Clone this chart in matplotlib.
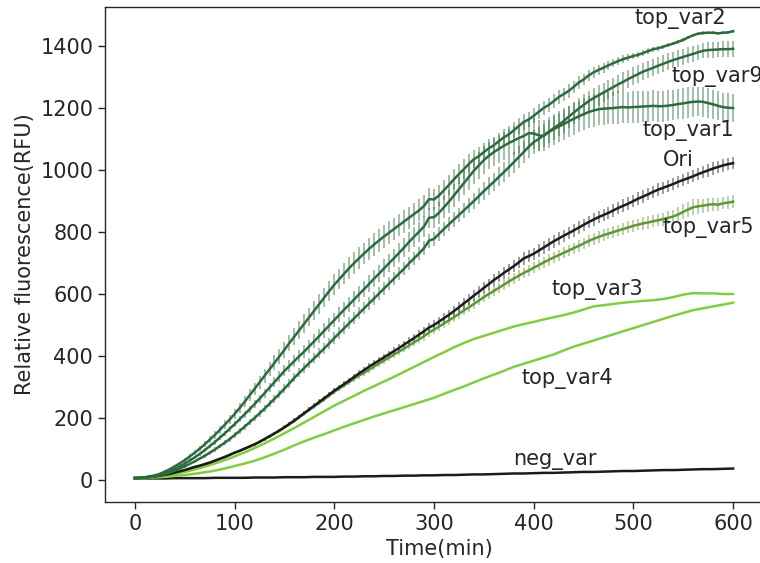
import numpy as np
import matplotlib
matplotlib.use("Agg")
import matplotlib.pyplot as plt
from matplotlib.colors import to_rgba

# time points (min)
t5 = np.arange(0, 605, 5)
t10 = np.arange(0, 610, 10)

# mean fluorescence, 5 min readings
top_var2 = [7, 7, 9, 12, 15, 20, 27, 35, 44, 54,
            64, 76, 88, 101, 115, 130, 145, 161, 178, 195,
            213, 232, 252, 273, 294, 315, 336, 357, 378, 399,
            420, 442, 463, 484, 505, 526, 547, 568, 589, 610,
            630, 648, 666, 684, 700, 716, 731, 746, 760, 773,
            786, 798, 810, 822, 834, 846, 858, 870, 884, 906,
            905, 918, 935, 952, 970, 987, 1003, 1020, 1035, 1045,
            1058, 1070, 1080, 1093, 1105, 1115, 1128, 1142, 1155, 1163,
            1175, 1188, 1200, 1210, 1222, 1235, 1245, 1255, 1268, 1282,
            1292, 1305, 1315, 1323, 1330, 1338, 1345, 1352, 1358, 1363,
            1368, 1372, 1378, 1384, 1390, 1393, 1398, 1403, 1408, 1414,
            1420, 1428, 1435, 1440, 1442, 1443, 1443, 1441, 1443, 1444,
            1448]
top_var1 = [7, 7, 8, 10, 13, 17, 22, 29, 36, 44,
            53, 63, 73, 84, 96, 109, 122, 136, 150, 165,
            180, 196, 212, 228, 245, 262, 280, 298, 316, 334,
            352, 368, 384, 400, 415, 432, 448, 465, 482, 499,
            516, 533, 550, 566, 583, 600, 616, 633, 650, 666,
            683, 700, 716, 733, 750, 768, 785, 801, 818, 846,
            848, 862, 880, 898, 918, 938, 958, 978, 998, 1015,
            1032, 1046, 1058, 1068, 1078, 1087, 1095, 1103, 1110, 1119,
            1118, 1112, 1110, 1122, 1132, 1140, 1148, 1157, 1165, 1173,
            1180, 1187, 1192, 1196, 1198, 1199, 1200, 1202, 1203, 1202,
            1203, 1204, 1205, 1206, 1207, 1206, 1206, 1208, 1210, 1213,
            1215, 1218, 1220, 1221, 1220, 1216, 1212, 1207, 1203, 1201,
            1200]
top_var9 = [6, 6, 7, 9, 11, 15, 19, 24, 30, 37,
            44, 52, 60, 69, 78, 88, 98, 109, 120, 132,
            145, 158, 172, 186, 200, 215, 230, 246, 262, 278,
            295, 312, 330, 346, 362, 378, 393, 409, 425, 441,
            458, 474, 490, 506, 522, 538, 554, 570, 586, 602,
            618, 634, 650, 666, 682, 699, 715, 731, 748, 772,
            778, 794, 810, 825, 840, 855, 870, 885, 900, 916,
            932, 947, 962, 978, 993, 1009, 1025, 1042, 1058, 1075,
            1090, 1100, 1112, 1124, 1135, 1146, 1158, 1172, 1185, 1198,
            1210, 1222, 1232, 1241, 1250, 1259, 1268, 1277, 1285, 1294,
            1302, 1310, 1318, 1324, 1330, 1337, 1343, 1349, 1355, 1360,
            1365, 1370, 1375, 1380, 1385, 1387, 1388, 1389, 1390, 1390,
            1391]
ori = [6, 7, 8, 10, 12, 14, 17, 20, 24, 28,
       32, 37, 42, 46, 51, 56, 62, 68, 74, 81,
       88, 94, 101, 108, 115, 123, 132, 141, 150, 160,
       170, 181, 192, 204, 216, 228, 240, 252, 264, 276,
       288, 299, 310, 321, 333, 344, 355, 366, 376, 386,
       396, 406, 416, 426, 437, 447, 458, 469, 480, 492,
       500, 511, 522, 533, 545, 557, 570, 582, 595, 607,
       620, 632, 645, 656, 668, 679, 690, 702, 715, 722,
       730, 740, 750, 760, 770, 779, 788, 796, 805, 814,
       823, 832, 840, 848, 855, 862, 870, 878, 885, 892,
       900, 908, 915, 922, 930, 937, 943, 949, 955, 962,
       968, 974, 980, 987, 993, 999, 1005, 1010, 1015, 1019,
       1022]
top_var5 = [6, 7, 8, 10, 12, 14, 17, 20, 24, 28,
            32, 37, 42, 46, 51, 56, 62, 68, 74, 81,
            88, 94, 101, 108, 115, 123, 132, 141, 150, 159,
            169, 180, 191, 203, 215, 227, 238, 249, 261, 273,
            285, 295, 306, 316, 327, 337, 346, 356, 366, 376,
            386, 395, 405, 414, 424, 434, 444, 454, 464, 476,
            485, 495, 505, 515, 525, 536, 547, 557, 568, 579,
            590, 600, 610, 620, 630, 640, 650, 659, 668, 676,
            685, 693, 702, 710, 718, 725, 733, 740, 748, 755,
            763, 771, 778, 784, 790, 795, 800, 805, 810, 815,
            820, 824, 828, 831, 835, 838, 842, 846, 850, 857,
            865, 873, 880, 883, 885, 888, 890, 888, 893, 895,
            898]

# 10 min readings
top_var3 = [6, 7, 10, 14, 19, 26, 34, 43, 53, 64,
            76, 89, 103, 118, 134, 151, 168, 186, 204, 222,
            240, 256, 272, 288, 303, 318, 333, 349, 365, 381,
            397, 412, 428, 442, 455, 465, 475, 485, 495, 503,
            510, 518, 525, 532, 540, 550, 560, 564, 568, 572,
            575, 578, 580, 584, 590, 598, 603, 602, 602, 600,
            600]
top_var4 = [5, 6, 8, 10, 13, 16, 20, 25, 30, 37,
            45, 53, 62, 73, 85, 98, 112, 125, 137, 148,
            160, 172, 183, 194, 205, 215, 225, 235, 245, 255,
            265, 278, 290, 302, 315, 328, 340, 352, 365, 375,
            385, 395, 405, 418, 430, 440, 450, 460, 470, 480,
            490, 500, 510, 520, 530, 539, 548, 554, 560, 566,
            572]
neg_var = [5, 5, 5, 5, 6, 6, 6, 6, 7, 7,
           7, 7, 8, 8, 8, 9, 9, 9, 10, 10,
           10, 11, 11, 12, 12, 13, 13, 14, 14, 15,
           15, 16, 16, 17, 18, 18, 19, 20, 21, 21,
           22, 23, 23, 24, 25, 26, 26, 27, 28, 29,
           29, 30, 31, 32, 32, 33, 34, 35, 35, 36,
           37]

# error (sd) for the 5 min series
err_var2 = [1, 1, 2, 2, 3, 3, 4, 4, 5, 5,
            6, 7, 8, 9, 10, 11, 12, 13, 14, 15,
            16, 17, 18, 19, 20, 21, 22, 23, 24, 25,
            26, 27, 28, 29, 30, 30, 31, 31, 32, 32,
            33, 33, 34, 34, 35, 35, 35, 35, 36, 36,
            36, 36, 36, 36, 36, 36, 35, 35, 35, 35,
            34, 34, 33, 33, 32, 32, 31, 31, 30, 30,
            29, 29, 28, 28, 27, 27, 26, 26, 25, 25,
            24, 24, 23, 23, 22, 22, 21, 21, 20, 20,
            19, 19, 18, 17, 16, 15, 14, 13, 12, 11,
            10, 10, 9, 9, 8, 8, 7, 7, 6, 6,
            6, 6, 5, 5, 5, 5, 5, 5, 5, 5,
            5]
err_var1 = [1, 1, 1, 1, 2, 2, 3, 3, 4, 4,
            5, 5, 6, 6, 7, 7, 8, 8, 9, 9,
            10, 10, 11, 11, 12, 13, 14, 15, 16, 17,
            18, 19, 20, 20, 21, 21, 22, 22, 23, 23,
            24, 24, 25, 25, 26, 26, 27, 27, 28, 28,
            29, 29, 30, 30, 31, 31, 32, 32, 33, 33,
            34, 35, 36, 37, 38, 39, 40, 41, 42, 43,
            44, 44, 45, 45, 46, 46, 47, 47, 48, 48,
            49, 49, 50, 50, 50, 50, 51, 51, 51, 51,
            52, 52, 52, 52, 52, 52, 52, 52, 51, 51,
            51, 51, 50, 50, 50, 50, 50, 50, 49, 49,
            49, 49, 48, 48, 48, 48, 47, 47, 47, 47,
            46]
err_var9 = [1, 1, 1, 1, 2, 2, 2, 2, 3, 3,
            4, 4, 5, 5, 6, 6, 7, 7, 8, 8,
            9, 9, 10, 10, 11, 11, 12, 12, 13, 13,
            14, 14, 15, 15, 16, 16, 17, 17, 18, 18,
            18, 18, 19, 19, 19, 19, 20, 20, 20, 20,
            20, 20, 20, 20, 21, 21, 21, 21, 22, 22,
            22, 22, 23, 23, 24, 24, 25, 25, 26, 27,
            28, 29, 30, 31, 32, 33, 34, 35, 36, 37,
            38, 38, 38, 38, 38, 37, 37, 36, 36, 35,
            35, 34, 34, 33, 32, 31, 30, 30, 30, 29,
            29, 28, 28, 28, 28, 27, 27, 27, 27, 26,
            26, 26, 26, 25, 25, 25, 25, 25, 25, 25,
            25]
err_ori = [1, 1, 1, 1, 1, 1, 1, 1, 2, 2,
           2, 2, 2, 2, 3, 3, 3, 3, 3, 3,
           4, 4, 4, 4, 5, 5, 5, 5, 6, 6,
           6, 6, 7, 7, 7, 7, 8, 8, 8, 8,
           9, 9, 9, 9, 10, 10, 10, 10, 11, 11,
           11, 11, 12, 12, 13, 13, 14, 14, 15, 15,
           16, 16, 16, 16, 17, 17, 17, 17, 18, 18,
           18, 18, 18, 18, 19, 19, 19, 19, 20, 20,
           20, 20, 20, 20, 20, 20, 20, 20, 20, 20,
           20, 20, 20, 20, 20, 20, 20, 20, 20, 20,
           20, 20, 20, 20, 20, 20, 20, 20, 20, 20,
           20, 20, 20, 20, 20, 20, 20, 20, 20, 20,
           20]
err_var5 = [1, 1, 1, 1, 1, 1, 1, 1, 2, 2,
            2, 2, 2, 2, 3, 3, 3, 3, 3, 3,
            4, 4, 4, 4, 5, 5, 5, 5, 6, 6,
            6, 6, 7, 7, 7, 7, 8, 8, 8, 8,
            9, 9, 9, 9, 10, 10, 10, 10, 11, 11,
            11, 11, 12, 12, 12, 12, 13, 13, 14, 14,
            14, 14, 15, 15, 15, 15, 16, 16, 16, 16,
            16, 16, 17, 17, 17, 17, 17, 17, 17, 17,
            17, 17, 18, 18, 18, 18, 18, 18, 18, 18,
            19, 19, 19, 19, 19, 19, 19, 19, 19, 19,
            19, 19, 20, 20, 20, 20, 21, 21, 22, 23,
            24, 25, 25, 24, 23, 22, 21, 21, 20, 20,
            20]

dark_green = '#2d6a3c'
mid_green = '#5f9636'
light_green = '#82cc44'
black = '#1c1c1c'
txt = '#262626'

fig = plt.figure(figsize=(7.6, 5.63), dpi=100)
ax = fig.add_axes([105 / 760, 61 / 563, 668 / 760, 495 / 563])

ax.plot(t10, neg_var, color=black, lw=1.8)
ax.plot(t10, top_var4, color=light_green, lw=1.8)
ax.plot(t10, top_var3, color=light_green, lw=1.8)

series = [(top_var5, err_var5, mid_green),
          (ori, err_ori, black),
          (top_var9, err_var9, dark_green),
          (top_var1, err_var1, dark_green),
          (top_var2, err_var2, dark_green)]
for vals, err, c in series:
    ax.errorbar(t5, vals, yerr=err, color=c, lw=1.8,
                ecolor=to_rgba(c, 0.55), elinewidth=1.1, capsize=0)

labels = [('top_var2', 547, 1490, 'center'),
          ('top_var9', 538, 1303, 'left'),
          ('top_var1', 555, 1126, 'center'),
          ('Ori', 545, 1032, 'center'),
          ('top_var5', 575, 813, 'center'),
          ('top_var3', 464, 613, 'center'),
          ('top_var4', 434, 329, 'center'),
          ('neg_var', 421, 65, 'center')]
for name, x, y, ha in labels:
    ax.text(x, y, name, ha=ha, va='center', fontsize=15, color=txt)

# axes run past the right edge of the picture, as in the source figure
ax.set_xlim(-30, 640)
ax.set_ylim(-71, 1526)
ax.set_xticks([0, 100, 200, 300, 400, 500, 600])
ax.set_yticks([0, 200, 400, 600, 800, 1000, 1200, 1400])
ax.set_xlabel('Time(min)', fontsize=15, color=txt)
ax.set_ylabel('Relative fluorescence(RFU)', fontsize=15, color=txt)
ax.tick_params(direction='out', length=5, width=1, labelsize=15,
               colors=txt)
for s in ax.spines.values():
    s.set_color(txt)
    s.set_linewidth(1)

fig.savefig('out.png', dpi=100)
